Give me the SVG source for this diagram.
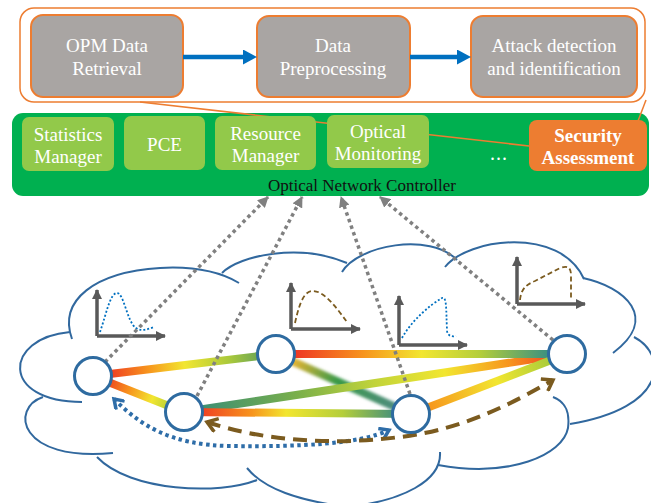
<svg xmlns="http://www.w3.org/2000/svg" width="651" height="503" viewBox="0 0 651 503">
<style>
.t{font-family:"Liberation Serif","Times New Roman",serif;text-anchor:middle}
.wt{fill:#fff;font-size:19px}
.gb{fill:#A9A5A3;stroke:#ED7D31;stroke-width:2}
.lg{fill:#92C94A}
.cl{fill:none;stroke:#31689E;stroke-width:2}
.nd{fill:#fff;stroke:#2E6BA0;stroke-width:3}
.lk{stroke-width:8;fill:none}
.gd{stroke:#808080;stroke-width:3.5;stroke-dasharray:3.5 3.5;fill:none}
.ax{stroke:#595959;stroke-width:3.5;fill:none}
.bd{stroke:#0070C0;stroke-width:1.8;stroke-dasharray:2 2;fill:none}
.br{stroke:#7B5B1F;stroke-width:1.8;stroke-dasharray:5 3;fill:none}
</style>
<defs>
<marker id="ab" markerWidth="14" markerHeight="15" refX="0" refY="7.5" orient="auto" markerUnits="userSpaceOnUse"><path d="M0,0 L14,7.5 L0,15z" fill="#0070C0"/></marker>
<marker id="ag" markerWidth="11" markerHeight="11" refX="10" refY="5.5" orient="auto" markerUnits="userSpaceOnUse"><path d="M0,0 L11,5.5 L0,11z" fill="#808080"/></marker>
<marker id="ax" markerWidth="10" markerHeight="10" refX="9" refY="5" orient="auto" markerUnits="userSpaceOnUse"><path d="M0,0 L10,5 L0,10z" fill="#595959"/></marker>
<marker id="ob" markerWidth="14" markerHeight="14" refX="11" refY="7" orient="auto-start-reverse" markerUnits="userSpaceOnUse"><path d="M2,1 L11,7 L2,13" fill="none" stroke="#2E6DA8" stroke-width="3.5"/></marker>
<marker id="on" markerWidth="16" markerHeight="16" refX="12" refY="8" orient="auto-start-reverse" markerUnits="userSpaceOnUse"><path d="M2,1 L12,8 L2,15" fill="none" stroke="#7B5B1F" stroke-width="3.5"/></marker>
<linearGradient id="gAC" gradientUnits="userSpaceOnUse" x1="93" y1="376" x2="276" y2="354"><stop offset="0.1" stop-color="#EF4123"/><stop offset="0.3" stop-color="#F7941D"/><stop offset="0.5" stop-color="#F2E630"/><stop offset="0.75" stop-color="#A8C83C"/><stop offset="0.95" stop-color="#5E9E5A"/></linearGradient>
<linearGradient id="gAB" gradientUnits="userSpaceOnUse" x1="93" y1="376" x2="184" y2="412"><stop offset="0.15" stop-color="#EF4123"/><stop offset="0.4" stop-color="#F7941D"/><stop offset="0.65" stop-color="#F2E630"/><stop offset="0.9" stop-color="#A6C83A"/></linearGradient>
<linearGradient id="gBE" gradientUnits="userSpaceOnUse" x1="184" y1="412" x2="567" y2="354"><stop offset="0.05" stop-color="#3D8F73"/><stop offset="0.3" stop-color="#7BB04A"/><stop offset="0.5" stop-color="#C2D43A"/><stop offset="0.68" stop-color="#F2E630"/><stop offset="0.85" stop-color="#F7941D"/><stop offset="0.97" stop-color="#EF4123"/></linearGradient>
<linearGradient id="gBD" gradientUnits="userSpaceOnUse" x1="184" y1="412" x2="411" y2="414"><stop offset="0.08" stop-color="#EF4123"/><stop offset="0.3" stop-color="#F7941D"/><stop offset="0.45" stop-color="#F2E630"/><stop offset="0.7" stop-color="#B4CE3A"/><stop offset="0.95" stop-color="#3B8B7F"/></linearGradient>
<linearGradient id="gCE" gradientUnits="userSpaceOnUse" x1="276" y1="354" x2="567" y2="354"><stop offset="0.06" stop-color="#EE3524"/><stop offset="0.3" stop-color="#F7941D"/><stop offset="0.5" stop-color="#F2E630"/><stop offset="0.7" stop-color="#B4CE3A"/><stop offset="0.96" stop-color="#2F8A87"/></linearGradient>
<linearGradient id="gCD" gradientUnits="userSpaceOnUse" x1="276" y1="354" x2="411" y2="414"><stop offset="0.1" stop-color="#F2B530"/><stop offset="0.45" stop-color="#3A9A48"/><stop offset="0.9" stop-color="#4F8C80"/></linearGradient>
<linearGradient id="gDE" gradientUnits="userSpaceOnUse" x1="411" y1="414" x2="567" y2="354"><stop offset="0.1" stop-color="#F7941D"/><stop offset="0.55" stop-color="#F2E630"/><stop offset="0.9" stop-color="#A8CC3A"/></linearGradient>
<filter id="blur" x="-10%" y="-10%" width="120%" height="120%"><feGaussianBlur stdDeviation="1.6"/></filter>
</defs>

<!-- callout frame -->
<g id="callout">
<rect x="20" y="8" width="625" height="94" rx="14" fill="none" stroke="#ED7D31" stroke-width="1.5"/>
</g>

<!-- controller -->
<g id="controller">
<rect x="12" y="113" width="637" height="83" rx="11" fill="#00B050"/>
<text class="t" x="362" y="191" font-size="17" fill="#111">Optical Network Controller</text>
</g>

<g id="callout-lines">
<line x1="140" y1="102" x2="529" y2="146" stroke="#ED7D31" stroke-width="1.5"/>
<line x1="646" y1="100" x2="638" y2="121" stroke="#ED7D31" stroke-width="1.5"/>
</g>

<g id="opm">
<rect class="gb" x="31" y="15" width="152" height="82" rx="12"/>
<text class="t wt" x="107" y="52">OPM Data</text>
<text class="t wt" x="107" y="75">Retrieval</text>
</g>
<g id="prep">
<rect class="gb" x="257" y="16" width="153" height="81" rx="12"/>
<text class="t wt" x="333" y="52">Data</text>
<text class="t wt" x="333" y="75">Preprocessing</text>
</g>
<g id="attack">
<rect class="gb" x="471" y="16" width="166" height="81" rx="12"/>
<text class="t wt" x="554" y="52">Attack detection</text>
<text class="t wt" x="554" y="75">and identification</text>
</g>

<g id="stats">
<rect class="lg" x="22" y="117" width="92" height="54" rx="7"/>
<text class="t wt" x="68" y="141">Statistics</text>
<text class="t wt" x="68" y="163">Manager</text>
</g>
<g id="pce">
<rect class="lg" x="124" y="116" width="81" height="54" rx="7"/>
<text class="t wt" x="164.5" y="151">PCE</text>
</g>
<g id="resource">
<rect class="lg" x="215" y="116" width="101" height="54" rx="7"/>
<text class="t wt" x="265.5" y="140">Resource</text>
<text class="t wt" x="265.5" y="162">Manager</text>
</g>
<g id="monitoring">
<rect class="lg" x="327" y="115" width="102" height="53" rx="7"/>
<text class="t wt" x="378" y="138">Optical</text>
<text class="t wt" x="378" y="160">Monitoring</text>
</g>
<g id="dots">
<text class="t" x="499" y="160" font-size="20" fill="#fff" letter-spacing="1">...</text>
</g>
<g id="security">
<rect x="529" y="120" width="118" height="51" rx="8" fill="#ED7D31"/>
<text class="t wt" x="588" y="142" font-weight="bold">Security</text>
<text class="t wt" x="588" y="164" font-weight="bold">Assessment</text>
</g>

<!-- cloud -->
<g id="cloud">
<path class="cl" d="M72,339 C58,300 95,272 160,268 C195,266 222,273 239,283"/>
<path class="cl" d="M222,273 C240,255 300,243 347,263"/>
<path class="cl" d="M342,272 C358,245 430,232 457,260"/>
<path class="cl" d="M445,267 C468,238 560,226 584,279"/>
<path class="cl" d="M583,278 C625,287 660,318 613,353"/>
<path class="cl" d="M634,337 C668,355 668,408 570,424"/>
<path class="cl" d="M553,397 C566,402 570,412 568,428 C563,455 510,478 438,465"/>
<path class="cl" d="M440,452 C442,482 400,500 355,506"/>
<path class="cl" d="M247,468 C265,490 300,500 340,506"/>
<path class="cl" d="M97,457 C130,492 220,495 257,480"/>
<path class="cl" d="M43,397 C10,408 18,462 113,453"/>
<path class="cl" d="M70,332 C3,338 0,402 82,402"/>
</g>

<!-- charts -->
<g id="chart1">
<path class="ax" d="M97,336 L97,290" marker-end="url(#ax)"/>
<path class="ax" d="M97,336 L165,336" marker-end="url(#ax)"/>
<path class="bd" d="M100,332 C106,315 110,293 117,293 C124,293 127,322 136,328 C142,332 148,329 154,327"/>
</g>
<g id="chart2">
<path class="ax" d="M291,329 L291,283" marker-end="url(#ax)"/>
<path class="ax" d="M291,329 L360,329" marker-end="url(#ax)"/>
<path class="br" d="M295,323 C300,300 305,291 313,291 C325,291 338,310 347,322"/>
</g>
<g id="chart3">
<path class="ax" d="M399,345 L399,296" marker-end="url(#ax)"/>
<path class="ax" d="M399,345 L467,345" marker-end="url(#ax)"/>
<path class="bd" d="M402,338 C412,320 430,305 442,298 C447,296 446,310 447,330 C447,336 452,337 456,336"/>
</g>
<g id="chart4">
<path class="ax" d="M517,304 L517,257" marker-end="url(#ax)"/>
<path class="ax" d="M517,304 L585,304" marker-end="url(#ax)"/>
<path class="br" d="M520,300 C521,290 525,285 535,281 L560,268 C568,265 571,268 571,275 L571,300"/>
</g>

<!-- connectors -->
<g id="connectors">
<line class="lk" x1="93" y1="376" x2="276" y2="354" stroke="url(#gAC)"/>
<line class="lk" x1="93" y1="376" x2="184" y2="412" stroke="url(#gAB)"/>
<line class="lk" x1="276" y1="354" x2="411" y2="414" stroke="url(#gCD)" filter="url(#blur)"/>
<line class="lk" x1="184" y1="412" x2="567" y2="354" stroke="url(#gBE)"/>
<line class="lk" x1="184" y1="412" x2="411" y2="414" stroke="url(#gBD)"/>
<line class="lk" x1="276" y1="354" x2="567" y2="354" stroke="url(#gCE)"/>
<line class="lk" x1="411" y1="414" x2="567" y2="354" stroke="url(#gDE)"/>
<path class="gd" d="M105,362 L268,197" marker-end="url(#ag)"/>
<path class="gd" d="M197,396 L302,197" marker-end="url(#ag)"/>
<path class="gd" d="M410,394 L341,197" marker-end="url(#ag)"/>
<path class="gd" d="M553,340 L380,197" marker-end="url(#ag)"/>
<path d="M183,57 L243,57" stroke="#0070C0" stroke-width="4.5" marker-end="url(#ab)"/>
<path d="M410,57 L457,57" stroke="#0070C0" stroke-width="4.5" marker-end="url(#ab)"/>
<path d="M114,399 C140,425 170,445 230,446 C300,447 360,444 389,430" fill="none" stroke="#2E6DA8" stroke-width="4" stroke-dasharray="3.5 3.5" marker-start="url(#ob)" marker-end="url(#ob)"/>
<path d="M207,422 C260,440 330,446 400,437 C460,430 510,405 553,380" fill="none" stroke="#7B5B1F" stroke-width="4" stroke-dasharray="14 8" marker-start="url(#on)" marker-end="url(#on)"/>
</g>

<!-- nodes -->
<g id="nodeA"><circle class="nd" cx="93" cy="376" r="18.5"/></g>
<g id="nodeB"><circle class="nd" cx="184" cy="412" r="18.5"/></g>
<g id="nodeC"><circle class="nd" cx="276" cy="354" r="18.5"/></g>
<g id="nodeD"><circle class="nd" cx="411" cy="414" r="18.5"/></g>
<g id="nodeE"><circle class="nd" cx="567" cy="354" r="18.5"/></g>
</svg>
